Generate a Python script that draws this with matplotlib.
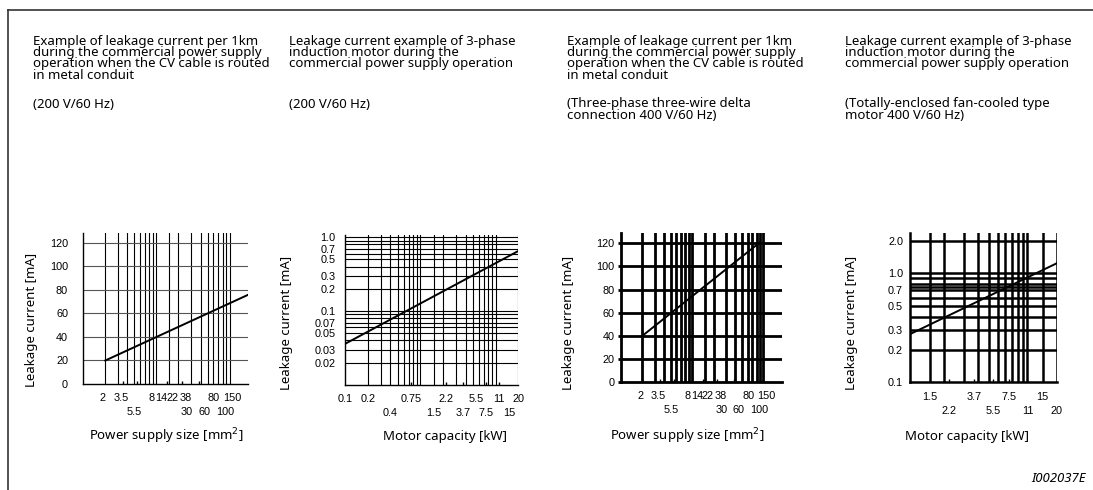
import matplotlib.pyplot as plt
from matplotlib.lines import Line2D
from matplotlib.ticker import NullFormatter, NullLocator

W, H = 1093, 490

# ---- text of the four panels ----
title_a = ['Example of leakage current per 1km', 'during the commercial power supply',
           'operation when the CV cable is routed', 'in metal conduit']
title_b = ['Leakage current example of 3-phase', 'induction motor during the',
           'commercial power supply operation']
sub_1 = ['(200 V/60 Hz)']
sub_2 = ['(200 V/60 Hz)']
sub_3 = ['(Three-phase three-wire delta', 'connection 400 V/60 Hz)']
sub_4 = ['(Totally-enclosed fan-cooled type', 'motor 400 V/60 Hz)']

# ---- x axis labels ----
cable_row1 = ['2', '3.5', '8', '14', '22', '38', '80', '150']
cable_row2 = ['5.5', '30', '60', '100']
# printed labels are squeezed, so they don't sit at their true log positions
cable_row1_at = [1.85, 3.3, 8.6, 11.6, 16.6, 25, 61, 110]
cable_row2_at = [5.0, 26, 45, 88]
cable_marks = [3.5, 5.5, 14, 22, 38]
cable_grid = [2, 3, 4, 5, 6, 7, 8, 9, 10, 15, 20, 30, 40, 50, 60, 70, 80, 90, 100]

motor200_row1 = ['0.1', '0.2', '0.75', '2.2', '5.5', '11', '20']
motor200_row2 = ['0.4', '1.5', '3.7', '7.5', '15']
motor200_xgrid = [0.2, 0.3, 0.4, 0.5, 0.6, 0.7, 0.8, 0.9, 1, 1.5, 2, 3, 4, 5, 6, 7, 8, 9, 10, 20]
motor200_marks = [0.75, 2.2, 3.7, 7.5, 11]

motor400_row1 = ['1.5', '3.7', '7.5', '15']
motor400_row2 = ['2.2', '5.5', '11', '20']
motor400_xgrid = [1.5, 2, 3, 4, 5, 6, 7, 8, 9, 10, 11, 15, 20]
motor400_marks = [2.2, 3.7, 5.5, 7.5, 11]

# ---- y axis ----
ma_ticks = [0, 20, 40, 60, 80, 100, 120]
motor200_yticks = [0.02, 0.03, 0.05, 0.07, 0.1, 0.2, 0.3, 0.5, 0.7, 1.0]
motor200_ylabels = ['0.02', '0.03', '0.05', '0.07', '0.1', '0.2', '0.3', '0.5', '0.7', '1.0']
motor200_ygrid = [0.02, 0.03, 0.04, 0.05, 0.06, 0.07, 0.08, 0.09, 0.1,
                  0.2, 0.3, 0.4, 0.5, 0.6, 0.7, 0.8, 0.9, 1.0]
motor400_yticks = [0.1, 0.2, 0.3, 0.5, 0.7, 1.0, 2.0]
motor400_ylabels = ['0.1', '0.2', '0.3', '0.5', '0.7', '1.0', '2.0']
motor400_ygrid = [0.2, 0.3, 0.4, 0.5, 0.6, 0.7, 0.75, 0.8, 0.9, 1.0, 2.0]

# ---- leakage current lines ----
cv200_size = [2, 180]
cv200_ma = [20, 76]
motor200_kw = [0.1, 20]
motor200_ma = [0.036, 0.65]
cv400_size = [2, 90]
cv400_ma = [40, 121]
motor400_kw = [1, 20]
motor400_ma = [0.277, 1.24]

TXT = 'Noto Sans'
NUM = 'Liberation Sans'
TSIZE = 9.5
NSIZE = 7.8


def px_axes(l, t, r, b):
    return fig.add_axes([l / W, 1 - b / H, (r - l) / W, (b - t) / H])


def fig_text(x, y, s, **kw):
    fig.text(x / W, 1 - y / H, s, **kw)


def grid(ax, xs, ys, lw, vcolor='black', hcolor='black'):
    for x in xs:
        ax.axvline(x, color=vcolor, lw=lw, zorder=1)
    for y in ys:
        ax.axhline(y, color=hcolor, lw=lw, zorder=1)


def x_rows(ax, pos1, lab1, pos2, lab2):
    for rowpos, rowlab, dy in ((pos1, lab1, 10.4), (pos2, lab2, 20.4)):
        for p, s in zip(rowpos, rowlab):
            ax.annotate(s, (p, 0), xycoords=('data', 'axes fraction'),
                        xytext=(0, -dy), textcoords='offset points',
                        ha='center', va='center', fontsize=NSIZE, family=NUM,
                        annotation_clip=False)


def style(ax, marks, lw_spine, ypad, ylab_dx, ylab_y, xlab_cx, xlab_dy, xlabel):
    ax.set_xticks([])
    ax.set_xticks(marks, minor=True)
    ax.xaxis.set_minor_formatter(NullFormatter())
    ax.yaxis.set_minor_locator(NullLocator())
    ax.tick_params(axis='x', which='minor', direction='in', length=2.5, width=1)
    ax.tick_params(axis='y', which='major', length=0, pad=ypad, labelsize=NSIZE)
    for lab in ax.get_yticklabels():
        lab.set_family(NUM)
    for side in ('top', 'right'):
        ax.spines[side].set_visible(False)
    for side in ('left', 'bottom'):
        ax.spines[side].set_linewidth(lw_spine)
    ax.set_ylabel('Leakage current [mA]', family=TXT, fontsize=TSIZE)
    w = ax.get_position().width * W
    h = ax.get_position().height * H
    l = ax.get_position().x0 * W
    ax.yaxis.set_label_coords(-ylab_dx / w, ylab_y)
    ax.set_xlabel(xlabel, family=TXT, fontsize=TSIZE)
    ax.xaxis.label.set_verticalalignment('center')
    ax.xaxis.set_label_coords((xlab_cx - l) / w, -xlab_dy / h)


fig = plt.figure(figsize=(W / 100, H / 100), dpi=100)

# frame
fig.add_artist(Line2D([8 / W, 8 / W], [0, 1 - 10 / H], color='#333333', lw=1.2))
fig.add_artist(Line2D([8 / W, 1], [1 - 10 / H, 1 - 10 / H], color='#333333', lw=1.2))

# headings
for x0, title, sub in ((33, title_a, sub_1), (289, title_b, sub_2),
                       (567, title_a, sub_3), (845, title_b, sub_4)):
    for i, line in enumerate(title):
        fig_text(x0, 41 + 11.4 * i, line, family=TXT, fontsize=TSIZE, va='center')
    for i, line in enumerate(sub):
        fig_text(x0, 104 + 11.4 * i, line, family=TXT, fontsize=TSIZE, va='center')

# panel 1: CV cable, 200 V
ax1 = px_axes(83.3, 233, 248.3, 384)
ax1.set_xscale('log')
ax1.set_xlim(1, 180)
ax1.set_ylim(0, 128.5)
grid(ax1, cable_grid, ma_ticks[1:], 0.8, hcolor='#555555')
ax1.plot(cv200_size, cv200_ma, color='black', lw=1.4, zorder=3)
ax1.set_yticks(ma_ticks)
x_rows(ax1, cable_row1_at, cable_row1, cable_row2_at, cable_row2)
style(ax1, cable_marks, 1.0, 11, 45, 0.424, 166, 52, 'Power supply size [mm$^2$]')

# panel 2: motor, 200 V
ax2 = px_axes(345, 235, 518.3, 385)
ax2.set_xscale('log')
ax2.set_yscale('log')
ax2.set_xlim(0.1, 20)
ax2.set_ylim(0.01, 1.07)
grid(ax2, motor200_xgrid, motor200_ygrid, 0.8)
ax2.plot(motor200_kw, motor200_ma, color='black', lw=1.4, zorder=3)
ax2.set_yticks(motor200_yticks, motor200_ylabels)
x_rows(ax2, [float(s) for s in motor200_row1], motor200_row1,
       [float(s) for s in motor200_row2], motor200_row2)
style(ax2, motor200_marks, 1.0, 7, 51.7, 0.417, 445, 51, 'Motor capacity [kW]')

# panel 3: CV cable, 400 V
ax3 = px_axes(621, 233, 782.3, 382)
ax3.set_xscale('log')
ax3.set_xlim(1, 184)
ax3.set_ylim(0, 128.9)
grid(ax3, cable_grid, ma_ticks[1:], 2.0)
ax3.plot(cv400_size, cv400_ma, color='black', lw=1.4, zorder=3)
ax3.set_yticks(ma_ticks)
x_rows(ax3, cable_row1_at, cable_row1, cable_row2_at, cable_row2)
style(ax3, cable_marks, 2.0, 4, 46, 0.396, 687, 54, 'Power supply size [mm$^2$]')
ax3.tick_params(axis='y', length=2.5, width=2.0, pad=2)

# panel 4: motor, 400 V
ax4 = px_axes(910, 233.3, 1056.7, 382.3)
ax4.set_xscale('log')
ax4.set_yscale('log')
ax4.set_xlim(1, 20)
ax4.set_ylim(0.1, 2.34)
grid(ax4, motor400_xgrid, motor400_ygrid, 1.8)
ax4.plot(motor400_kw, motor400_ma, color='black', lw=1.4, zorder=3)
ax4.set_yticks(motor400_yticks, motor400_ylabels)
x_rows(ax4, [float(s) for s in motor400_row1], motor400_row1,
       [float(s) for s in motor400_row2], motor400_row2)
style(ax4, motor400_marks, 1.8, 5, 51.7, 0.398, 967, 54, 'Motor capacity [kW]')

fig_text(1086, 478, 'I002037E', family=TXT, fontsize=TSIZE, style='italic',
         ha='right', va='center')

fig.savefig('out.png', dpi=100)
